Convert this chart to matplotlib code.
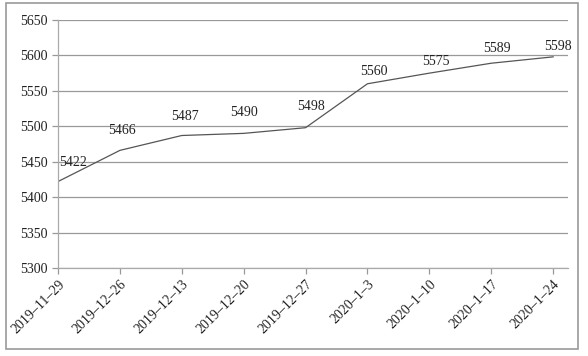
import matplotlib
matplotlib.use("Agg")
import matplotlib.pyplot as plt
from matplotlib.patches import Rectangle

# данные
dates = ["2019–11–29", "2019–12–26", "2019–12–13", "2019–12–20", "2019–12–27",
         "2020–1–3", "2020–1–10", "2020–1–17", "2020–1–24"]
values = [5422, 5466, 5487, 5490, 5498, 5560, 5575, 5589, 5598]
yticks = [5300, 5350, 5400, 5450, 5500, 5550, 5600, 5650]

# смещения подписей (px)
lab_dx = [15, 2, 3, 0, 5, 6, 7, 6, 5]
lab_dy = [19, 20, 19, 21, 21, 12, 12, 15, 10]

plt.rcParams['font.family'] = ['Liberation Serif', 'DejaVu Serif']

fig = plt.figure(figsize=(5.88, 3.56), dpi=100)
ax = fig.add_axes([58 / 588, 1 - 268 / 356, 510 / 588, 248 / 356])

x = list(range(len(values)))
ax.plot(x, values, color='#555555', lw=0.9)

for i, v in enumerate(values):
    ax.annotate(str(v), (i, v), xytext=(lab_dx[i] * 0.72, lab_dy[i] * 0.72),
                textcoords='offset points', ha='center', va='center',
                fontsize=10, color='#222222')

ax.set_xlim(0, 8.24)
ax.set_ylim(5300, 5650)
ax.set_yticks(yticks)
ax.set_xticks(x)
ax.set_xticklabels(dates, rotation=45, ha='right', rotation_mode='anchor')
ax.grid(axis='y', color='#999999', lw=0.9)
ax.set_axisbelow(True)

for s in ['top', 'right']:
    ax.spines[s].set_visible(False)
for s in ['left', 'bottom']:
    ax.spines[s].set_color('#aaaaaa')
    ax.spines[s].set_linewidth(0.9)
ax.tick_params(axis='both', colors='#999999', labelcolor='#222222', labelsize=10, length=4, width=0.9)
ax.tick_params(axis='x', pad=3)

# рамка вокруг рисунка
fig.patches.append(Rectangle((6 / 588, 1 - 349 / 356), 572 / 588, 346 / 356,
                             transform=fig.transFigure, fill=False,
                             edgecolor='#999999', lw=1.2))

fig.savefig("out.png", dpi=100)
